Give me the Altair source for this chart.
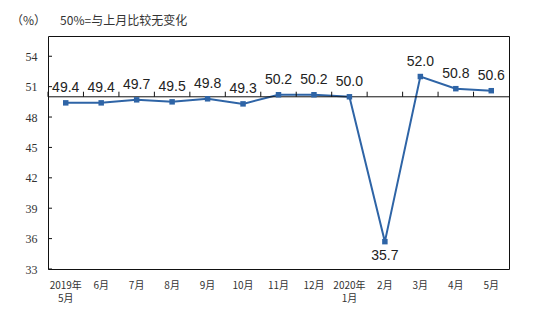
import altair as alt
import pandas as pd

months = ["2019年\n5月", "6月", "7月", "8月", "9月", "10月", "11月", "12月",
          "2020年\n1月", "2月", "3月", "4月", "5月"]
values = [49.4, 49.4, 49.7, 49.5, 49.8, 49.3, 50.2, 50.2, 50.0, 35.7, 52.0, 50.8, 50.6]
y_ticks = [33, 36, 39, 42, 45, 48, 51, 54]

df = pd.DataFrame({"month": months, "value": values})
df["label"] = df["value"].map(lambda v: f"{v:.1f}")
ticks_df = pd.DataFrame({"t": y_ticks})

line_color = "#2E64A6"
xscale = alt.Scale(type="band", paddingInner=0, paddingOuter=0)
yscale = alt.Scale(domain=[33, 56], nice=False, zero=False)

x_enc = alt.X("month:N", sort=months, scale=xscale, title=None,
              axis=alt.Axis(labelAngle=0, ticks=False, domain=False,
                            labelExpr="split(datum.label, '\\n')",
                            labelFont="Noto Sans CJK SC", labelFontSize=10,
                            labelColor="#333333", labelPadding=11,
                            labelLineHeight=13, labelBaseline="top",
                            labelOverlap=False))
y_enc = alt.Y("value:Q", scale=yscale, title=None,
              axis=alt.Axis(values=y_ticks, tickCount=20, ticks=False, domain=False,
                            grid=False,
                            labelFont="Liberation Serif", labelFontSize=12,
                            labelColor="#333333", labelPadding=11,
                            labelOverlap=False, labelFlush=False))

xn = alt.X("month:N", sort=months, scale=xscale)
yn = alt.Y("value:Q", scale=yscale)

base = alt.Chart(df)

ref50 = base.mark_rule(color="#111111", strokeWidth=1).encode(
    y=alt.datum(50, scale=yscale)
).transform_filter("datum.month == '6月'")

band_ticks = base.mark_rule(color="#111111", strokeWidth=1).encode(
    x=alt.X("month:N", sort=months, scale=xscale, bandPosition=0),
    y=alt.datum(50),
    y2=alt.datum(50.5),
)

yt = alt.Chart(ticks_df).mark_rule(color="#111111", strokeWidth=1).encode(
    y=alt.Y("t:Q", scale=yscale),
    x=alt.value(0),
    x2=alt.value(4),
)

line = base.mark_line(color=line_color, strokeWidth=2).encode(x=x_enc, y=y_enc)
pts = base.mark_square(color=line_color, size=30, opacity=1).encode(x=xn, y=yn)

above = base.mark_text(font="Liberation Sans", fontSize=14, color="#222222",
                       baseline="alphabetic", dy=-11).encode(
    x=xn, y=yn, text="label:N").transform_filter("datum.value >= 40")
below = base.mark_text(font="Liberation Sans", fontSize=14, color="#222222",
                       baseline="top", dy=7).encode(
    x=xn, y=yn, text="label:N").transform_filter("datum.value < 40")

chart = alt.layer(line, ref50, band_ticks, yt, pts, above, below).properties(
    width=461, height=233,
    autosize=alt.AutoSizeParams(type="none"),
    padding={"left": 48, "top": 36, "right": 47, "bottom": 44},
    background="white",
    title=alt.TitleParams("（%）　\u00a0\u00a0\u00a050%=与上月比较无变化", anchor="start",
                          dx=-37, frame="group",
                          font="Noto Sans CJK SC", fontSize=12, fontWeight="normal",
                          color="#333333", baseline="middle", offset=3),
).configure_view(stroke="#111111", strokeWidth=1).configure_axis(
    labelOverlap=False
).configure_axisY(labelOverlap=False, values=y_ticks, tickCount=20)

chart.save("out.html", embed_options={"renderer": "svg", "actions": False})
